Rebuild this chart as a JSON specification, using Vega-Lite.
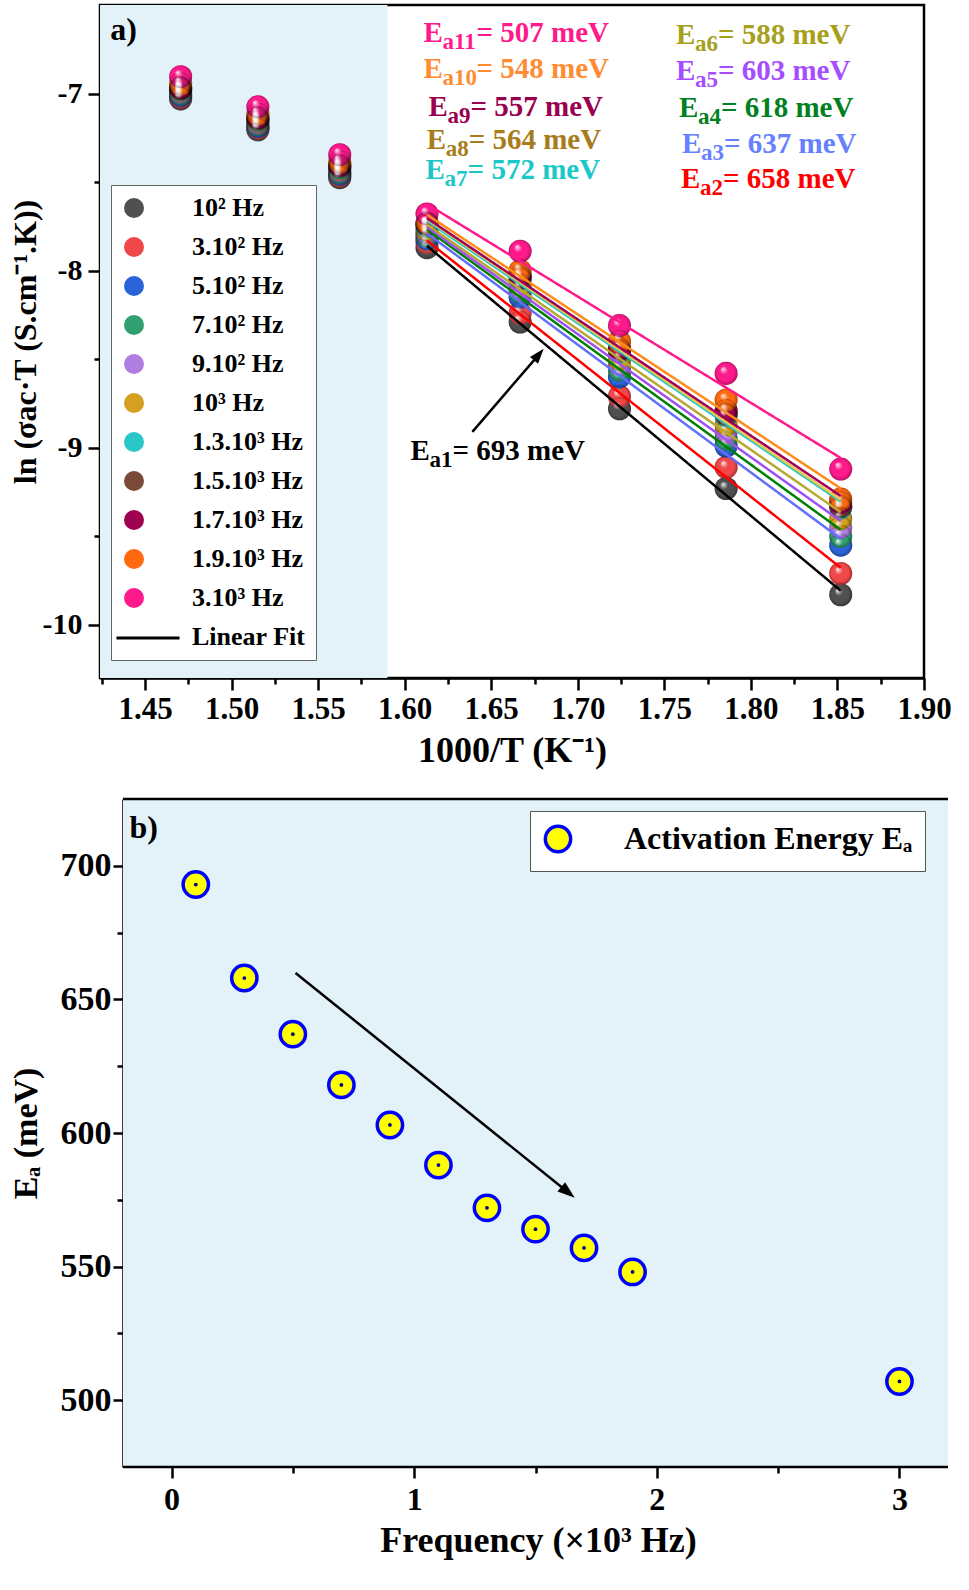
{
  "$schema": "https://vega.github.io/schema/vega-lite/v6.json",
  "padding": {"left": 7, "top": 3, "right": 10, "bottom": 5},
  "background": "white",
  "spacing": 27,
  "config": {
    "font": "Liberation Serif",
    "view": {"stroke": null},
    "axis": {
      "labelFont": "Liberation Serif", "titleFont": "Liberation Serif",
      "labelFontWeight": "bold", "titleFontWeight": "bold",
      "labelColor": "#000", "titleColor": "#000",
      "domainColor": "#000", "tickColor": "#000",
      "domainWidth": 2.5, "tickWidth": 2.5, "grid": false,
      "labelFlush": false, "labelOverlap": false
    },
    "legend": {"labelFont": "Liberation Serif", "labelFontWeight": "bold", "labelColor": "#000"},
    "text": {"font": "Liberation Serif", "fontWeight": "bold"}
  },
  "datasets": {
    "pts": [
      {"f": "10² Hz", "x": 1.4706, "y": -7.03}, {"f": "10² Hz", "x": 1.5152, "y": -7.205}, {"f": "10² Hz", "x": 1.5625, "y": -7.475}, {"f": "10² Hz", "x": 1.6129, "y": -7.87}, {"f": "10² Hz", "x": 1.6667, "y": -8.29}, {"f": "10² Hz", "x": 1.7241, "y": -8.78}, {"f": "10² Hz", "x": 1.7857, "y": -9.23}, {"f": "10² Hz", "x": 1.8519, "y": -9.83},
      {"f": "3.10² Hz", "x": 1.4706, "y": -7.02}, {"f": "3.10² Hz", "x": 1.5152, "y": -7.195}, {"f": "3.10² Hz", "x": 1.5625, "y": -7.465}, {"f": "3.10² Hz", "x": 1.6129, "y": -7.84}, {"f": "3.10² Hz", "x": 1.6667, "y": -8.24}, {"f": "3.10² Hz", "x": 1.7241, "y": -8.71}, {"f": "3.10² Hz", "x": 1.7857, "y": -9.11}, {"f": "3.10² Hz", "x": 1.8519, "y": -9.71},
      {"f": "5.10² Hz", "x": 1.4706, "y": -7.01}, {"f": "5.10² Hz", "x": 1.5152, "y": -7.185}, {"f": "5.10² Hz", "x": 1.5625, "y": -7.455}, {"f": "5.10² Hz", "x": 1.6129, "y": -7.82}, {"f": "5.10² Hz", "x": 1.6667, "y": -8.15}, {"f": "5.10² Hz", "x": 1.7241, "y": -8.6}, {"f": "5.10² Hz", "x": 1.7857, "y": -8.99}, {"f": "5.10² Hz", "x": 1.8519, "y": -9.55},
      {"f": "7.10² Hz", "x": 1.4706, "y": -7.0}, {"f": "7.10² Hz", "x": 1.5152, "y": -7.175}, {"f": "7.10² Hz", "x": 1.5625, "y": -7.445}, {"f": "7.10² Hz", "x": 1.6129, "y": -7.8}, {"f": "7.10² Hz", "x": 1.6667, "y": -8.12}, {"f": "7.10² Hz", "x": 1.7241, "y": -8.56}, {"f": "7.10² Hz", "x": 1.7857, "y": -8.95}, {"f": "7.10² Hz", "x": 1.8519, "y": -9.5},
      {"f": "9.10² Hz", "x": 1.4706, "y": -6.99}, {"f": "9.10² Hz", "x": 1.5152, "y": -7.165}, {"f": "9.10² Hz", "x": 1.5625, "y": -7.435}, {"f": "9.10² Hz", "x": 1.6129, "y": -7.785}, {"f": "9.10² Hz", "x": 1.6667, "y": -8.1}, {"f": "9.10² Hz", "x": 1.7241, "y": -8.53}, {"f": "9.10² Hz", "x": 1.7857, "y": -8.91}, {"f": "9.10² Hz", "x": 1.8519, "y": -9.45},
      {"f": "10³ Hz", "x": 1.4706, "y": -6.98}, {"f": "10³ Hz", "x": 1.5152, "y": -7.155}, {"f": "10³ Hz", "x": 1.5625, "y": -7.425}, {"f": "10³ Hz", "x": 1.6129, "y": -7.77}, {"f": "10³ Hz", "x": 1.6667, "y": -8.08}, {"f": "10³ Hz", "x": 1.7241, "y": -8.5}, {"f": "10³ Hz", "x": 1.7857, "y": -8.87}, {"f": "10³ Hz", "x": 1.8519, "y": -9.4},
      {"f": "1.3.10³ Hz", "x": 1.4706, "y": -6.975}, {"f": "1.3.10³ Hz", "x": 1.5152, "y": -7.148}, {"f": "1.3.10³ Hz", "x": 1.5625, "y": -7.418}, {"f": "1.3.10³ Hz", "x": 1.6129, "y": -7.75}, {"f": "1.3.10³ Hz", "x": 1.6667, "y": -8.05}, {"f": "1.3.10³ Hz", "x": 1.7241, "y": -8.46}, {"f": "1.3.10³ Hz", "x": 1.7857, "y": -8.82}, {"f": "1.3.10³ Hz", "x": 1.8519, "y": -9.34},
      {"f": "1.5.10³ Hz", "x": 1.4706, "y": -6.97}, {"f": "1.5.10³ Hz", "x": 1.5152, "y": -7.141}, {"f": "1.5.10³ Hz", "x": 1.5625, "y": -7.41}, {"f": "1.5.10³ Hz", "x": 1.6129, "y": -7.74}, {"f": "1.5.10³ Hz", "x": 1.6667, "y": -8.04}, {"f": "1.5.10³ Hz", "x": 1.7241, "y": -8.45}, {"f": "1.5.10³ Hz", "x": 1.7857, "y": -8.81}, {"f": "1.5.10³ Hz", "x": 1.8519, "y": -9.33},
      {"f": "1.7.10³ Hz", "x": 1.4706, "y": -6.965}, {"f": "1.7.10³ Hz", "x": 1.5152, "y": -7.135}, {"f": "1.7.10³ Hz", "x": 1.5625, "y": -7.403}, {"f": "1.7.10³ Hz", "x": 1.6129, "y": -7.735}, {"f": "1.7.10³ Hz", "x": 1.6667, "y": -8.03}, {"f": "1.7.10³ Hz", "x": 1.7241, "y": -8.44}, {"f": "1.7.10³ Hz", "x": 1.7857, "y": -8.79}, {"f": "1.7.10³ Hz", "x": 1.8519, "y": -9.31},
      {"f": "1.9.10³ Hz", "x": 1.4706, "y": -6.945}, {"f": "1.9.10³ Hz", "x": 1.5152, "y": -7.115}, {"f": "1.9.10³ Hz", "x": 1.5625, "y": -7.385}, {"f": "1.9.10³ Hz", "x": 1.6129, "y": -7.73}, {"f": "1.9.10³ Hz", "x": 1.6667, "y": -8.0}, {"f": "1.9.10³ Hz", "x": 1.7241, "y": -8.4}, {"f": "1.9.10³ Hz", "x": 1.7857, "y": -8.73}, {"f": "1.9.10³ Hz", "x": 1.8519, "y": -9.29},
      {"f": "3.10³ Hz", "x": 1.4706, "y": -6.905}, {"f": "3.10³ Hz", "x": 1.5152, "y": -7.075}, {"f": "3.10³ Hz", "x": 1.5625, "y": -7.345}, {"f": "3.10³ Hz", "x": 1.6129, "y": -7.68}, {"f": "3.10³ Hz", "x": 1.6667, "y": -7.89}, {"f": "3.10³ Hz", "x": 1.7241, "y": -8.31}, {"f": "3.10³ Hz", "x": 1.7857, "y": -8.58}, {"f": "3.10³ Hz", "x": 1.8519, "y": -9.12}
    ],
    "notes": [
      {"f": "3.10³ Hz", "s": "a11", "v": "= 507 meV", "x": 1.6109, "y": -6.657},
      {"f": "1.9.10³ Hz", "s": "a10", "v": "= 548 meV", "x": 1.6109, "y": -6.861},
      {"f": "1.7.10³ Hz", "s": "a9", "v": "= 557 meV", "x": 1.6138, "y": -7.075},
      {"f": "1.5.10³ Hz", "s": "a8", "v": "= 564 meV", "x": 1.6127, "y": -7.261},
      {"f": "1.3.10³ Hz", "s": "a7", "v": "= 572 meV", "x": 1.6121, "y": -7.431},
      {"f": "10³ Hz", "s": "a6", "v": "= 588 meV", "x": 1.7567, "y": -6.669},
      {"f": "9.10² Hz", "s": "a5", "v": "= 603 meV", "x": 1.7567, "y": -6.872},
      {"f": "7.10² Hz", "s": "a4", "v": "= 618 meV", "x": 1.7584, "y": -7.081},
      {"f": "5.10² Hz", "s": "a3", "v": "= 637 meV", "x": 1.7602, "y": -7.284},
      {"f": "3.10² Hz", "s": "a2", "v": "= 658 meV", "x": 1.7596, "y": -7.482},
      {"f": "10² Hz", "s": "a1", "v": "= 693 meV", "x": 1.6034, "y": -9.017}
    ],
    "ea": [
      {"freq": 0.1, "ea": 693}, {"freq": 0.3, "ea": 658}, {"freq": 0.5, "ea": 637},
      {"freq": 0.7, "ea": 618}, {"freq": 0.9, "ea": 603}, {"freq": 1.1, "ea": 588},
      {"freq": 1.3, "ea": 572}, {"freq": 1.5, "ea": 564}, {"freq": 1.7, "ea": 557},
      {"freq": 1.9, "ea": 548}, {"freq": 3.0, "ea": 507}
    ]
  },
  "resolve": {
    "scale": {"x": "independent", "y": "independent", "color": "independent"},
    "legend": {"color": "independent"}
  },
  "vconcat": [
    {
      "width": 824,
      "height": 673,
      "view": {"stroke": "#000", "strokeWidth": 2.5},
      "layer": [
        {
          "data": {"values": [{}]},
          "mark": {"type": "rect", "color": "#e3f1f8"},
          "encoding": {
            "x": {"datum": 1.424, "type": "quantitative"},
            "x2": {"datum": 1.59},
            "y": {"datum": -10.3, "type": "quantitative"},
            "y2": {"datum": -6.5}
          }
        },
        {
          "data": {"name": "pts"},
          "mark": {"type": "point", "filled": true, "opacity": 1, "size": 530, "shape": "circle"},
          "encoding": {
            "x": {
              "field": "x", "type": "quantitative",
              "scale": {"domain": [1.424, 1.9], "nice": false, "zero": false},
              "axis": {
                "title": "1000/T (K⁻¹)",
                "values": [1.425, 1.45, 1.475, 1.5, 1.525, 1.55, 1.575, 1.6, 1.625, 1.65, 1.675, 1.7, 1.725, 1.75, 1.775, 1.8, 1.825, 1.85, 1.875, 1.9],
                "labelExpr": "abs(datum.value*20 - round(datum.value*20)) > 0.01 ? '' : format(datum.value, '.2f')",
                "tickSize": {"condition": {"test": "abs(datum.value*20 - round(datum.value*20)) > 0.01", "value": 6}, "value": 12},
                "labelFontSize": 31, "titleFontSize": 36, "labelPadding": 4, "titlePadding": 9
              }
            },
            "y": {
              "field": "y", "type": "quantitative",
              "scale": {"domain": [-10.3, -6.5], "nice": false, "zero": false},
              "axis": {
                "title": "ln (σac·T (S.cm⁻¹.K))",
                "values": [-10, -9.5, -9, -8.5, -8, -7.5, -7],
                "labelExpr": "abs(datum.value - round(datum.value)) > 0.01 ? '' : '-' + format(abs(datum.value), 'd')",
                "tickSize": {"condition": {"test": "abs(datum.value - round(datum.value)) > 0.01", "value": 6}, "value": 12},
                "labelFontSize": 30, "titleFontSize": 32, "labelPadding": 6, "titlePadding": 0
              }
            },
            "color": {
              "field": "f", "type": "nominal",
              "scale": {
                "domain": ["10² Hz", "3.10² Hz", "5.10² Hz", "7.10² Hz", "9.10² Hz", "10³ Hz", "1.3.10³ Hz", "1.5.10³ Hz", "1.7.10³ Hz", "1.9.10³ Hz", "3.10³ Hz", "Linear Fit"],
                "range": ["#505050", "#f04848", "#2a64d8", "#30a070", "#b07ee0", "#d4a020", "#28c8c8", "#7a4a38", "#a00050", "#ff6a10", "#ff1a8c", "transparent"]
              },
              "legend": {
                "title": null, "orient": "none", "legendX": 11, "legendY": 180,
                "fillColor": "#ffffff", "strokeColor": "#666666", "padding": 10,
                "rowPadding": 13, "labelFontSize": 26, "labelOffset": 45, "labelLimit": 400,
                "symbolSize": 400, "symbolStrokeWidth": 0, "symbolOpacity": 1, "symbolType": "circle"
              }
            }
          }
        },
        {
          "data": {"name": "pts"},
          "mark": {
            "type": "point", "filled": true, "opacity": 1, "size": 530, "shape": "circle",
            "color": {
              "gradient": "radial", "x1": 0.36, "y1": 0.3, "r1": 0, "x2": 0.5, "y2": 0.5, "r2": 0.5,
              "stops": [
                {"offset": 0, "color": "rgba(255,255,255,0.95)"},
                {"offset": 0.35, "color": "rgba(255,255,255,0)"},
                {"offset": 0.75, "color": "rgba(0,0,0,0)"},
                {"offset": 1, "color": "rgba(0,0,0,0.3)"}
              ]
            }
          },
          "encoding": {
            "x": {"field": "x", "type": "quantitative"},
            "y": {"field": "y", "type": "quantitative"}
          }
        },
        {
          "data": {"name": "pts"},
          "transform": [
            {"filter": "datum.x > 1.6"},
            {"regression": "y", "on": "x", "groupby": ["f"], "method": "linear"}
          ],
          "mark": {"type": "line", "strokeWidth": 2.5},
          "encoding": {
            "x": {"field": "x", "type": "quantitative"},
            "y": {"field": "y", "type": "quantitative"},
            "stroke": {
              "field": "f", "type": "nominal",
              "scale": {
                "domain": ["10² Hz", "3.10² Hz", "5.10² Hz", "7.10² Hz", "9.10² Hz", "10³ Hz", "1.3.10³ Hz", "1.5.10³ Hz", "1.7.10³ Hz", "1.9.10³ Hz", "3.10³ Hz"],
                "range": ["#000000", "#ff0000", "#6070f8", "#008000", "#a050f0", "#b8a830", "#20c8c8", "#e8c850", "#a0005a", "#ff8c1a", "#ff1a8c"]
              },
              "legend": null
            },
            "strokeDash": {
              "datum": "Linear Fit", "type": "nominal",
              "scale": {"range": [[1, 0]]},
              "legend": {
                "title": null, "orient": "none", "legendX": 15, "legendY": 600,
                "padding": 0, "labelExpr": "''", "labelOffset": 0,
                "symbolType": "stroke", "symbolSize": 3969,
                "symbolStrokeColor": "#000000", "symbolStrokeWidth": 3
              }
            }
          }
        },
        {
          "data": {"name": "notes"},
          "mark": {"type": "text", "text": "E", "align": "left", "baseline": "middle", "fontSize": 29},
          "encoding": {
            "x": {"field": "x", "type": "quantitative"},
            "y": {"field": "y", "type": "quantitative"},
            "fill": {
              "field": "f", "type": "nominal",
              "scale": {
                "domain": ["10² Hz", "3.10² Hz", "5.10² Hz", "7.10² Hz", "9.10² Hz", "10³ Hz", "1.3.10³ Hz", "1.5.10³ Hz", "1.7.10³ Hz", "1.9.10³ Hz", "3.10³ Hz"],
                "range": ["#000000", "#ff0000", "#6680ff", "#008020", "#a64dff", "#a6a01a", "#1ac8c8", "#a87c1a", "#99004d", "#ff8c33", "#ff1a8c"]
              },
              "legend": null
            }
          }
        },
        {
          "data": {"name": "notes"},
          "mark": {"type": "text", "align": "left", "baseline": "middle", "fontSize": 23, "dx": 19, "dy": 9},
          "encoding": {
            "x": {"field": "x", "type": "quantitative"},
            "y": {"field": "y", "type": "quantitative"},
            "text": {"field": "s"},
            "fill": {"field": "f", "type": "nominal", "legend": null}
          }
        },
        {
          "data": {"name": "notes"},
          "transform": [{"filter": "length(datum.s) == 3"}],
          "mark": {"type": "text", "align": "left", "baseline": "middle", "fontSize": 29, "dx": 53},
          "encoding": {
            "x": {"field": "x", "type": "quantitative"},
            "y": {"field": "y", "type": "quantitative"},
            "text": {"field": "v"},
            "fill": {"field": "f", "type": "nominal", "legend": null}
          }
        },
        {
          "data": {"name": "notes"},
          "transform": [{"filter": "length(datum.s) == 2"}],
          "mark": {"type": "text", "align": "left", "baseline": "middle", "fontSize": 29, "dx": 42},
          "encoding": {
            "x": {"field": "x", "type": "quantitative"},
            "y": {"field": "y", "type": "quantitative"},
            "text": {"field": "v"},
            "fill": {"field": "f", "type": "nominal", "legend": null}
          }
        },
        {
          "data": {"values": [{}]},
          "mark": {"type": "rule", "strokeWidth": 2.5, "color": "#000"},
          "encoding": {
            "x": {"datum": 1.6391, "type": "quantitative"},
            "y": {"datum": -8.91, "type": "quantitative"},
            "x2": {"datum": 1.6775},
            "y2": {"datum": -8.474}
          }
        },
        {
          "data": {"values": [{}]},
          "mark": {"type": "point", "shape": "M0,-1L0.7,1L-0.7,1Z", "size": 225, "angle": 40, "filled": true, "opacity": 1, "color": "#000"},
          "encoding": {
            "x": {"datum": 1.6775, "type": "quantitative"},
            "y": {"datum": -8.474, "type": "quantitative"}
          }
        },
        {
          "data": {"values": [{}]},
          "mark": {"type": "text", "text": "a)", "align": "left", "baseline": "middle", "fontSize": 32},
          "encoding": {
            "x": {"datum": 1.4299, "type": "quantitative"},
            "y": {"datum": -6.64, "type": "quantitative"}
          }
        }
      ]
    },
    {
      "width": 848,
      "height": 668,
      "layer": [
        {
          "data": {"values": [{}]},
          "mark": {"type": "rect", "color": "#e3f1f8"},
          "encoding": {
            "x": {"datum": -0.2, "type": "quantitative"},
            "x2": {"datum": 3.2},
            "y": {"datum": 475, "type": "quantitative"},
            "y2": {"datum": 725}
          }
        },
        {
          "data": {"values": [{}]},
          "mark": {"type": "rule", "strokeWidth": 2.5, "color": "#000"},
          "encoding": {
            "x": {"datum": -0.2, "type": "quantitative"},
            "x2": {"datum": 3.2},
            "y": {"datum": 725, "type": "quantitative"}
          }
        },
        {
          "data": {"values": [{}]},
          "mark": {"type": "rule", "strokeWidth": 2.5, "color": "#000"},
          "encoding": {
            "x": {"datum": -0.2, "type": "quantitative"},
            "x2": {"datum": 3.2},
            "y": {"datum": 475, "type": "quantitative"}
          }
        },
        {
          "data": {"name": "ea"},
          "mark": {"type": "point", "filled": true, "opacity": 1, "size": 640, "stroke": "#0000ff", "strokeWidth": 3.5},
          "encoding": {
            "x": {
              "field": "freq", "type": "quantitative",
              "scale": {"domain": [-0.2948, 3.2], "nice": false, "zero": false},
              "axis": {
                "title": "Frequency (×10³ Hz)",
                "domain": false,
                "values": [0, 0.5, 1, 1.5, 2, 2.5, 3],
                "labelExpr": "datum.value % 1 != 0 ? '' : format(datum.value, 'd')",
                "tickSize": {"condition": {"test": "datum.value % 1 != 0", "value": 6}, "value": 11},
                "labelFontSize": 32, "titleFontSize": 36, "labelPadding": 6, "titlePadding": 8,
                "titleX": 438
              }
            },
            "y": {
              "field": "ea", "type": "quantitative",
              "scale": {"domain": [475, 725], "nice": false, "zero": false},
              "axis": {
                "title": "Eₐ (meV)",
                "offset": -23,
                "values": [500, 525, 550, 575, 600, 625, 650, 675, 700],
                "labelExpr": "datum.value % 50 != 0 ? '' : format(datum.value, 'd')",
                "tickSize": {"condition": {"test": "datum.value % 50 != 0", "value": 6}, "value": 10},
                "labelFontSize": 34, "titleFontSize": 34, "labelPadding": 2, "titlePadding": 17
              }
            },
            "color": {
              "datum": "Activation Energy Eₐ", "type": "nominal",
              "scale": {"range": ["#ffff00"]},
              "legend": {
                "title": null, "orient": "none", "legendX": 430, "legendY": 12,
                "fillColor": "#ffffff", "strokeColor": "#555555", "padding": 12,
                "labelFontSize": 32, "labelOffset": 50, "labelLimit": 500,
                "symbolType": "circle", "symbolSize": 640,
                "symbolStrokeColor": "#0000ff", "symbolStrokeWidth": 3.5, "symbolOpacity": 1
              }
            }
          }
        },
        {
          "data": {"name": "ea"},
          "mark": {"type": "point", "filled": true, "opacity": 1, "size": 14, "color": "#000080"},
          "encoding": {
            "x": {"field": "freq", "type": "quantitative"},
            "y": {"field": "ea", "type": "quantitative"}
          }
        },
        {
          "data": {"values": [{}]},
          "mark": {"type": "rule", "strokeWidth": 2.5, "color": "#000"},
          "encoding": {
            "x": {"datum": 0.511, "type": "quantitative"},
            "y": {"datum": 659.9, "type": "quantitative"},
            "x2": {"datum": 1.634},
            "y2": {"datum": 577.8}
          }
        },
        {
          "data": {"values": [{}]},
          "mark": {"type": "point", "shape": "M0,-1L0.7,1L-0.7,1Z", "size": 300, "angle": 129, "filled": true, "opacity": 1, "color": "#000"},
          "encoding": {
            "x": {"datum": 1.634, "type": "quantitative"},
            "y": {"datum": 577.8, "type": "quantitative"}
          }
        },
        {
          "data": {"values": [{}]},
          "mark": {"type": "text", "text": "b)", "align": "left", "baseline": "middle", "fontSize": 32},
          "encoding": {
            "x": {"datum": -0.173, "type": "quantitative"},
            "y": {"datum": 714.2, "type": "quantitative"}
          }
        }
      ]
    }
  ]
}
